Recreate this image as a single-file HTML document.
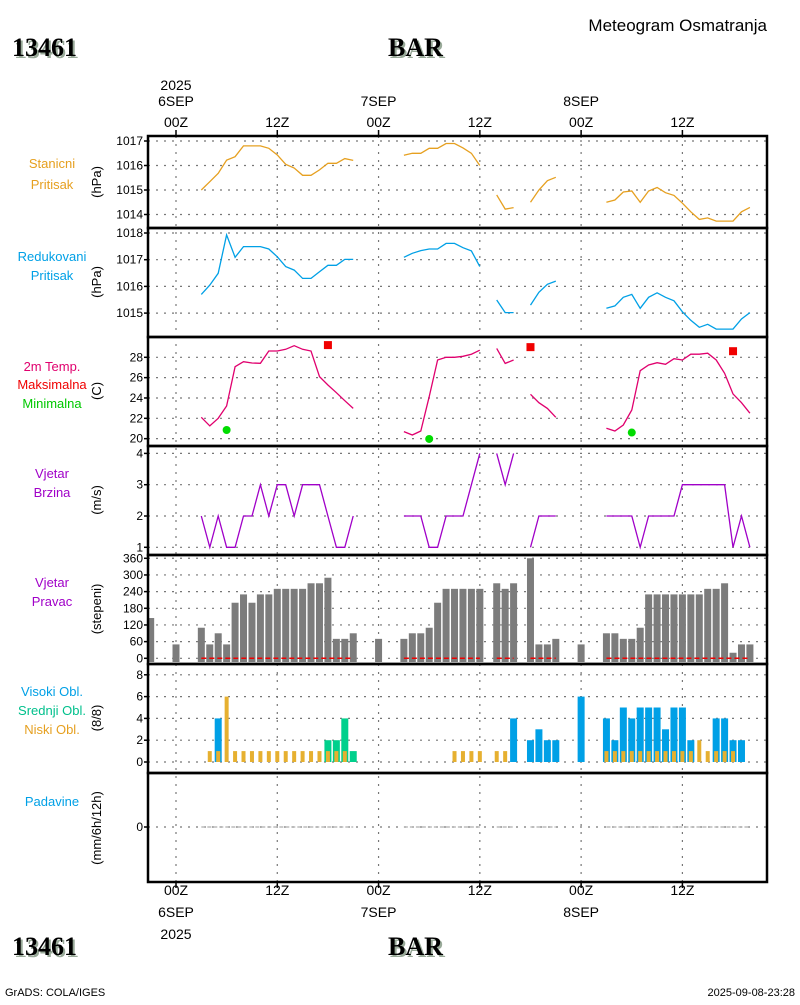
<!DOCTYPE html>
<html><head><meta charset="utf-8"><style>
html,body{margin:0;padding:0;background:#fff}
svg text{font-family:"Liberation Sans",sans-serif}
svg text.serif{font-family:"Liberation Serif",serif}
</style></head><body>
<svg id="chart" width="800" height="1000" viewBox="0 0 800 1000" xmlns="http://www.w3.org/2000/svg">
<rect width="800" height="1000" fill="#fff"/>
<g id="grid"></g><g id="marks"></g><g id="frame"></g><g id="labels"></g>
<text class="serif" x="12" y="56" font-size="26" font-weight="bold" fill="#9a9" dx="2" dy="2">13461</text>
<text class="serif" x="12" y="56" font-size="26" font-weight="bold" fill="#000">13461</text>
<text class="serif" x="388" y="56" font-size="26" font-weight="bold" fill="#9a9" dx="2" dy="2">BAR</text>
<text class="serif" x="388" y="56" font-size="26" font-weight="bold" fill="#000">BAR</text>
<text x="767" y="31" text-anchor="end" font-size="17" fill="#000">Meteogram Osmatranja</text>
<text class="serif" x="12" y="955" font-size="26" font-weight="bold" fill="#9a9" dx="2" dy="2">13461</text>
<text class="serif" x="12" y="955" font-size="26" font-weight="bold" fill="#000">13461</text>
<text class="serif" x="388" y="955" font-size="26" font-weight="bold" fill="#9a9" dx="2" dy="2">BAR</text>
<text class="serif" x="388" y="955" font-size="26" font-weight="bold" fill="#000">BAR</text>
<text x="5" y="996" font-size="11" fill="#000">GrADS: COLA/IGES</text>
<text x="795" y="996" text-anchor="end" font-size="11" fill="#000">2025-09-08-23:28</text>
</svg>
<script>
// ---- data (hour index: startHour + i) ----
const startHour = 3;
const stationP = [1015.0,1015.34,1015.68,1016.22,1016.36,1016.8,1016.8,1016.8,1016.7,1016.43,1016.05,1015.9,1015.6,1015.6,1015.82,1016.09,1016.09,1016.28,1016.21,null,null,null,null,null,1016.42,1016.5,1016.5,1016.7,1016.7,1016.9,1016.9,1016.72,1016.5,1016.0,null,1014.8,1014.22,1014.28,null,1014.5,1015.0,1015.38,1015.52,null,null,null,null,null,1014.5,1014.59,1014.92,1014.96,1014.5,1014.96,1015.1,1014.89,1014.78,1014.46,1014.11,1013.8,1013.86,1013.73,1013.73,1013.73,1014.11,1014.29];
const reducedP = [1015.7,1016.05,1016.49,1017.93,1017.09,1017.49,1017.49,1017.49,1017.4,1017.11,1016.74,1016.61,1016.3,1016.3,1016.55,1016.79,1016.79,1017.01,1017.01,null,null,null,null,null,1017.09,1017.24,1017.34,1017.4,1017.4,1017.61,1017.61,1017.45,1017.33,1016.74,null,1015.49,1015.02,1015.02,null,1015.3,1015.78,1016.08,1016.2,null,null,null,null,null,1015.18,1015.27,1015.59,1015.7,1015.18,1015.59,1015.76,1015.59,1015.46,1015.05,1014.73,1014.47,1014.58,1014.4,1014.4,1014.4,1014.78,1015.02];
const temp = [22.1,21.25,22.0,23.21,27.08,27.57,27.44,27.41,28.62,28.62,28.79,29.14,28.79,28.62,26.1,25.28,24.52,23.73,22.98,null,null,null,null,null,20.69,20.36,20.75,24.13,27.73,28.0,28.0,28.1,28.3,28.7,null,28.88,27.4,27.73,null,24.36,23.54,22.98,22.1,null,null,null,null,null,21.02,20.75,21.34,22.82,26.68,27.24,27.47,27.31,27.86,27.73,28.3,28.3,28.4,27.73,26.43,24.4,23.54,22.5];
const windSpeed = [2,1,2,1,1,2,2,3,2,3,3,2,3,3,3,2,1,1,2,null,null,null,null,null,2,2,2,1,1,2,2,2,3,4,null,4,3,4,null,1,2,2,2,null,null,null,null,null,2,2,2,2,1,2,2,2,2,3,3,3,3,3,3,1,2,1];
const maxHours = [18,42,66];
const maxTemps = [29.2,29.0,28.6];
const minHours = [6,30,54];
const minTemps = [20.85,19.97,20.6];
const dirHours = [-3,0,3,4,5,6,7,8,9,10,11,12,13,14,15,16,17,18,19,20,21,24,27,28,29,30,31,32,33,34,35,36,38,39,40,42,43,44,45,48,51,52,53,54,55,56,57,58,59,60,61,62,63,64,65,66,67,68];
const dirValues = [145,50,110,50,90,50,200,230,200,230,230,250,250,250,250,270,270,290,70,70,90,70,70,90,90,110,200,250,250,250,250,250,270,250,270,360,50,50,70,50,90,90,70,70,110,230,230,230,230,230,230,230,250,250,270,20,50,50];
const highHours = [5,40,42,43,44,45,48,51,52,53,54,55,56,57,58,59,60,61,64,65,66,67];
const highVals = [4,4,2,3,2,2,6,4,2,5,4,5,5,5,3,5,5,2,4,4,2,2];
const midHours = [18,19,20,21];
const midVals = [2,2,4,1];
const lowHours = [4,5,6,7,8,9,10,11,12,13,14,15,16,17,18,19,20,33,34,35,36,38,39,51,52,53,54,55,56,57,58,59,60,61,62,63,64,65,66];
const lowVals = [1,1,6,1,1,1,1,1,1,1,1,1,1,1,1,1,1,1,1,1,1,1,1,1,1,1,1,1,1,1,1,1,1,1,2,1,1,1,1];
const calmSegs = [[3,21],[27,36],[38,40],[42,45],[51,68]];
const timeLabels = ["00Z","12Z","00Z","12Z","00Z","12Z"];
const timeHours = [0,12,24,36,48,60];

// ---- axes ----
const L=148,R=767;
const X=h=>176+8.44*h;
const yP1=v=>141+(1017-v)*24.5;
const yP2=v=>233+(1018-v)*26.7;
const yT=v=>357.3+(28-v)*10.17;
const yW=v=>547.3-(v-1)*31.3;
const yD=v=>658.3-v*16.67/60;
const yC=v=>762-v*10.9;
const yPr=v=>827-v*10;

const NS="http://www.w3.org/2000/svg";
function mk(parent,tag,attrs){const e=document.createElementNS(NS,tag);for(const k in attrs)e.setAttribute(k,attrs[k]);document.getElementById(parent).appendChild(e);return e;}
function txt(parent,x,y,s,attrs){const e=mk(parent,'text',Object.assign({x:x,y:y},attrs||{}));e.textContent=s;return e;}

const panels=[[136,228],[228,337],[337,446],[446,555],[555,664],[664,773],[773,882]];
const hTicks=[
 {f:yP1,v:[1017,1016,1015,1014]},
 {f:yP2,v:[1018,1017,1016,1015]},
 {f:yT,v:[28,26,24,22,20]},
 {f:yW,v:[4,3,2,1]},
 {f:yD,v:[360,300,240,180,120,60,0]},
 {f:yC,v:[8,6,4,2,0]},
 {f:yPr,v:[0]}];
hTicks.forEach((p,pi)=>{p.v.forEach(v=>{
  const y=p.f(v);
  const g=mk('grid','line',{x1:L,x2:R,y1:y,y2:y,stroke:'#777','stroke-width':1.2,'stroke-dasharray':'2,6'});
  
  
  mk('frame','line',{x1:L-4,x2:L,y1:y,y2:y,stroke:'#000','stroke-width':1.5});
  const t=txt('labels',L-5,y+4,String(v),{'text-anchor':'end','font-size':12});
  
  
});});
timeHours.forEach(h=>{
  const x=X(h);
  const g=mk('grid','line',{x1:x,x2:x,y1:136,y2:882,stroke:'#777','stroke-width':1.2,'stroke-dasharray':'2,6'});
  
  
  mk('frame','line',{x1:x,x2:x,y1:130,y2:136,stroke:'#000','stroke-width':1.5});
  mk('frame','line',{x1:x,x2:x,y1:882,y2:888,stroke:'#000','stroke-width':1.5});
});
panels.forEach(p=>{
  const r=mk('frame','rect',{x:L,y:p[0],width:R-L,height:p[1]-p[0],fill:'none',stroke:'#000','stroke-width':2.5});
  
  
});

function lineSeries(vals,fy,color,name){
  let d='',pen=false;
  vals.forEach((v,i)=>{
    if(v===null){pen=false;return;}
    d+=(pen?'L':'M')+X(startHour+i).toFixed(1)+' '+fy(v).toFixed(1)+' ';pen=true;
  });
  const p=mk('marks','path',{d:d,fill:'none',stroke:color,'stroke-width':1.3});
  
  
}
lineSeries(stationP,yP1,'#e6a020','station-pressure-line');
lineSeries(reducedP,yP2,'#00a0e6','reduced-pressure-line');
lineSeries(temp,yT,'#e0006e','temperature-line');
lineSeries(windSpeed,yW,'#a000c8','wind-speed-line');

maxHours.forEach((h,i)=>{
  const r=mk('marks','rect',{x:X(h)-4,y:yT(maxTemps[i])-4,width:8,height:8,fill:'#f00000'});
  
  
});
minHours.forEach((h,i)=>{
  const c=mk('marks','circle',{cx:X(h),cy:yT(minTemps[i]),r:4,fill:'#00dc00'});
  
  
});

const clipD=mk('marks','clipPath',{id:'clipD'});
const cr=document.createElementNS(NS,'rect');cr.setAttribute('x',L);cr.setAttribute('y',555);cr.setAttribute('width',R-L);cr.setAttribute('height',109);clipD.appendChild(cr);
dirHours.forEach((h,i)=>{
  const y=yD(dirValues[i]);
  const r=mk('marks','rect',{x:X(h)-3.5,y:y,width:7,height:662-y,fill:'#7c7c7c','clip-path':'url(#clipD)'});
  
  
});
calmSegs.forEach(s=>{
  const l=mk('marks','line',{x1:X(s[0]),x2:X(s[1]),y1:yD(0),y2:yD(0),stroke:'#f00000','stroke-width':1.5,'stroke-dasharray':'5,3'});
  
  
  const p=mk('marks','line',{x1:X(s[0]),x2:X(s[1]),y1:yPr(0),y2:yPr(0),stroke:'#999','stroke-width':1,'stroke-dasharray':'4,2'});
  
  
});

highHours.forEach((h,i)=>{
  const y=yC(highVals[i]);
  const r=mk('marks','rect',{x:X(h)-3.5,y:y,width:7,height:yC(0)-y,fill:'#00a0e6'});
  
  
});
midHours.forEach((h,i)=>{
  const y=yC(midVals[i]);
  const r=mk('marks','rect',{x:X(h)-3.5,y:y,width:7,height:yC(0)-y,fill:'#00d08c'});
  
  
});
lowHours.forEach((h,i)=>{
  const y=yC(lowVals[i]);
  const r=mk('marks','rect',{x:X(h)-2,y:y,width:4,height:yC(0)-y,fill:'#e6b030'});
  
  
});

timeHours.forEach((h,i)=>{
  const t=txt('labels',X(h),127,timeLabels[i],{'text-anchor':'middle','font-size':14});
  
  
  const b=txt('labels',X(h),895,timeLabels[i],{'text-anchor':'middle','font-size':14});
  
  
});
[[0,'6SEP'],[24,'7SEP'],[48,'8SEP']].forEach(d=>{
  const t=txt('labels',X(d[0]),106,d[1],{'text-anchor':'middle','font-size':14});
  
  
  const b=txt('labels',X(d[0]),917,d[1],{'text-anchor':'middle','font-size':14});
  
  
});
const y1=txt('labels',X(0),90,'2025',{'text-anchor':'middle','font-size':14});


const y2=txt('labels',X(0),939,'2025',{'text-anchor':'middle','font-size':14});



const sideLabels=[
 ['Stanicni',168,'#e6a020'],['Pritisak',189,'#e6a020'],
 ['Redukovani',261,'#00a0e6'],['Pritisak',280,'#00a0e6'],
 ['2m Temp.',371,'#e0006e'],['Maksimalna',389,'#f00000'],['Minimalna',408,'#00c800'],
 ['Vjetar',478,'#a000c8'],['Brzina',497,'#a000c8'],
 ['Vjetar',587,'#a000c8'],['Pravac',606,'#a000c8'],
 ['Visoki Obl.',696,'#00a0e6'],['Srednji Obl.',715,'#00c08c'],['Niski Obl.',734,'#e6a020'],
 ['Padavine',806,'#00a0e6']];
sideLabels.forEach(s=>{
  const t=txt('labels',52,s[1],s[0],{'text-anchor':'middle','font-size':13,fill:s[2]});
  
  
});
[['(hPa)',182],['(hPa)',282],['(C)',391],['(m/s)',500],['(stepeni)',609],['(8/8)',718],['(mm/6h/12h)',828]].forEach(a=>{
  const t=txt('labels',0,0,a[0],{'text-anchor':'middle','font-size':13,transform:'translate(101,'+a[1]+') rotate(-90)'});
  
  
});
</script>
</body></html>
